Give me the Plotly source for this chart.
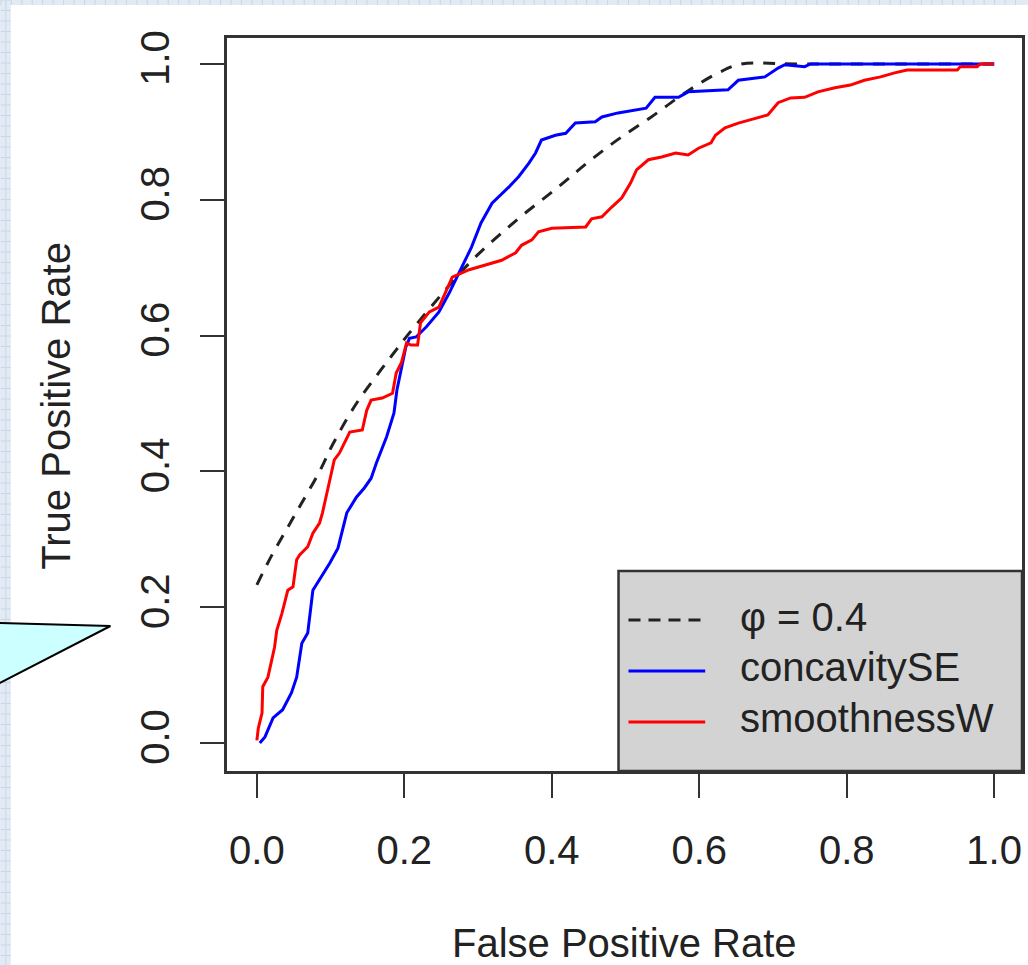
import plotly.graph_objects as go

# ---------------- data ----------------
ref_name = "φ = 0.4"
ref_fpr = [0.0, 0.02, 0.04, 0.06, 0.085, 0.103, 0.135, 0.17, 0.189, 0.207, 0.25, 0.292,
           0.35, 0.409, 0.45, 0.49, 0.535, 0.58, 0.626, 0.657, 0.73, 1.0]
ref_tpr = [0.233, 0.276, 0.314, 0.352, 0.40, 0.44, 0.50, 0.552, 0.579, 0.604, 0.66, 0.711,
           0.768, 0.819, 0.856, 0.889, 0.922, 0.957, 0.987, 1.0, 1.0, 1.0]

blue_name = "concavitySE"
blue_fpr = [0.004, 0.011, 0.022, 0.035, 0.047, 0.054, 0.061, 0.069, 0.076, 0.085, 0.099,
            0.110, 0.122, 0.135, 0.146, 0.155, 0.162, 0.176, 0.186, 0.190, 0.197, 0.202,
            0.207, 0.216, 0.230, 0.247, 0.261, 0.274, 0.284, 0.291, 0.304, 0.311, 0.319,
            0.342, 0.355, 0.369, 0.378, 0.386, 0.405, 0.419, 0.432, 0.459, 0.468, 0.490,
            0.514, 0.528, 0.540, 0.572, 0.585, 0.639, 0.653, 0.689, 0.707, 0.716, 0.743,
            0.751, 1.0]
blue_tpr = [0.0, 0.009, 0.037, 0.049, 0.074, 0.097, 0.147, 0.162, 0.225, 0.240, 0.265,
            0.287, 0.339, 0.362, 0.376, 0.390, 0.412, 0.451, 0.486, 0.520, 0.560, 0.583,
            0.596, 0.598, 0.613, 0.635, 0.663, 0.692, 0.716, 0.730, 0.766, 0.780, 0.795,
            0.819, 0.834, 0.854, 0.869, 0.888, 0.895, 0.898, 0.913, 0.915, 0.922, 0.928,
            0.932, 0.935, 0.951, 0.951, 0.959, 0.962, 0.976, 0.981, 0.994, 0.999, 0.996,
            1.0, 1.0]

red_name = "smoothnessW"
red_fpr = [0.0, 0.002, 0.007, 0.008, 0.015, 0.020, 0.024, 0.027, 0.034, 0.042, 0.049,
           0.054, 0.058, 0.069, 0.076, 0.085, 0.089, 0.096, 0.101, 0.105, 0.112, 0.122,
           0.126, 0.143, 0.149, 0.155, 0.170, 0.184, 0.189, 0.196, 0.203, 0.209, 0.218,
           0.222, 0.234, 0.247, 0.257, 0.265, 0.288, 0.311, 0.332, 0.351, 0.359, 0.373,
           0.382, 0.400, 0.446, 0.454, 0.468, 0.481, 0.495, 0.507, 0.515, 0.531, 0.549,
           0.568, 0.585, 0.599, 0.616, 0.622, 0.635, 0.653, 0.676, 0.693, 0.707, 0.724,
           0.743, 0.761, 0.784, 0.805, 0.824, 0.846, 0.865, 0.882, 0.950, 0.954, 0.977,
           0.981, 1.0]
red_tpr = [0.004, 0.022, 0.044, 0.083, 0.097, 0.122, 0.141, 0.166, 0.191, 0.225, 0.230,
           0.270, 0.277, 0.289, 0.309, 0.324, 0.339, 0.373, 0.400, 0.417, 0.427, 0.451,
           0.458, 0.461, 0.490, 0.505, 0.508, 0.515, 0.545, 0.560, 0.589, 0.586, 0.586,
           0.619, 0.635, 0.642, 0.667, 0.686, 0.697, 0.704, 0.711, 0.722, 0.733, 0.741,
           0.753, 0.758, 0.760, 0.772, 0.775, 0.789, 0.803, 0.825, 0.844, 0.859, 0.863,
           0.869, 0.866, 0.876, 0.884, 0.895, 0.906, 0.913, 0.920, 0.925, 0.943, 0.950,
           0.951, 0.959, 0.965, 0.969, 0.976, 0.981, 0.987, 0.991, 0.991, 0.996, 0.996,
           1.0, 1.0]

tick_vals = [0.0, 0.2, 0.4, 0.6, 0.8, 1.0]
tick_text = ["0.0", "0.2", "0.4", "0.6", "0.8", "1.0"]
x_title = "False Positive Rate"
y_title = "True Positive Rate"

# ---------------- layout geometry (pixels) ----------------
W, H = 1028, 965
PL, PR, PT, PB = 227, 1025, 38, 771   # plot box edges in pixels
FONT = "Liberation Sans, Arial, Helvetica, sans-serif"
INK = "#222222"


def px(x):
    return (x - PL) / (PR - PL)


def py(y):
    return (PB - y) / (PB - PT)


fig = go.Figure()
fig.add_trace(go.Scatter(x=ref_fpr, y=ref_tpr, mode="lines", name=ref_name,
                         line=dict(color=INK, width=3, dash="12px,10px", shape="spline"),
                         showlegend=False))
fig.add_trace(go.Scatter(x=blue_fpr, y=blue_tpr, mode="lines", name=blue_name,
                         line=dict(color="#0000ff", width=3), showlegend=False))
fig.add_trace(go.Scatter(x=red_fpr, y=red_tpr, mode="lines", name=red_name,
                         line=dict(color="#ff0000", width=3), showlegend=False))

shapes = []
# faint grid pattern of the slide background (visible strips on top and left)
grid_path = []
g = 0.0
while g < H:
    grid_path.append(f"M {px(0)},{py(g)} L {px(10)},{py(g)}")
    g += 10.5
g = 0.0
while g < W:
    grid_path.append(f"M {px(g)},{py(0)} L {px(g)},{py(5)}")
    g += 10.5
grid_path.append(f"M {px(5)},{py(0)} L {px(5)},{py(H)}")
shapes.append(dict(type="path", xref="paper", yref="paper", layer="below",
                   path=" ".join(grid_path), line=dict(color="#c8d6e8", width=1)))
# white slide area over the light blue page background
shapes.append(dict(type="rect", xref="paper", yref="paper", layer="below",
                   x0=px(10), x1=px(W + 5), y0=py(5), y1=py(H + 5),
                   fillcolor="white", line=dict(width=0)))
# cyan callout (partially visible)
shapes.append(dict(type="path", xref="paper", yref="paper", layer="above",
                   path=f"M {px(-5)},{py(623)} L {px(110)},{py(626)} L {px(-5)},{py(685)} Z",
                   fillcolor="#ccffff", line=dict(color="black", width=2)))
# legend box
shapes.append(dict(type="rect", xref="paper", yref="paper", layer="above",
                   x0=px(620), x1=px(1025), y0=py(771), y1=py(571),
                   fillcolor="#d3d3d3", line=dict(color="#333333", width=2.5)))
leg_rows = [(620, INK, "dash", ref_name, 617),
            (671, "#0000ff", "solid", blue_name, 667),
            (722, "#ff0000", "solid", red_name, 718)]
annotations = []
for ly, col, dsh, txt, ty in leg_rows:
    shapes.append(dict(type="line", xref="paper", yref="paper", layer="above",
                       x0=px(630), x1=px(707), y0=py(ly), y1=py(ly),
                       line=dict(color=col, width=3, dash="12px,8px" if dsh == "dash" else "solid")))
    annotations.append(dict(text=txt, xref="paper", yref="paper", x=px(740), y=py(ty),
                            xanchor="left", yanchor="middle", showarrow=False,
                            font=dict(family=FONT, size=40, color=INK)))

annotations.append(dict(text=x_title, xref="paper", yref="paper", x=px(626), y=py(943),
                        xanchor="center", yanchor="middle", showarrow=False,
                        font=dict(family=FONT, size=40, color=INK)))
annotations.append(dict(text=y_title, xref="paper", yref="paper", x=px(55), y=py(406),
                        xanchor="center", yanchor="middle", showarrow=False, textangle=-90,
                        font=dict(family=FONT, size=40, color=INK)))

axis_common = dict(showgrid=False, zeroline=False, showline=True, mirror=True,
                   linecolor="#333333", linewidth=3, ticks="outside", ticklen=24,
                   tickwidth=2, tickcolor="#333333", tickvals=tick_vals, ticktext=tick_text,
                   tickfont=dict(family=FONT, size=40, color=INK))

fig.update_layout(
    width=W, height=H,
    margin=dict(l=PL, r=W - PR, t=PT, b=H - PB, pad=0),
    paper_bgcolor="#e2eaf4", plot_bgcolor="white",
    xaxis=dict(range=[-0.0405, 1.0378], ticklabelstandoff=18, **axis_common),
    yaxis=dict(range=[-0.0412, 1.0383], tickangle=-90, ticklabelstandoff=15, **axis_common),
    shapes=shapes, annotations=annotations, showlegend=False,
)

fig.write_html("out.html")
